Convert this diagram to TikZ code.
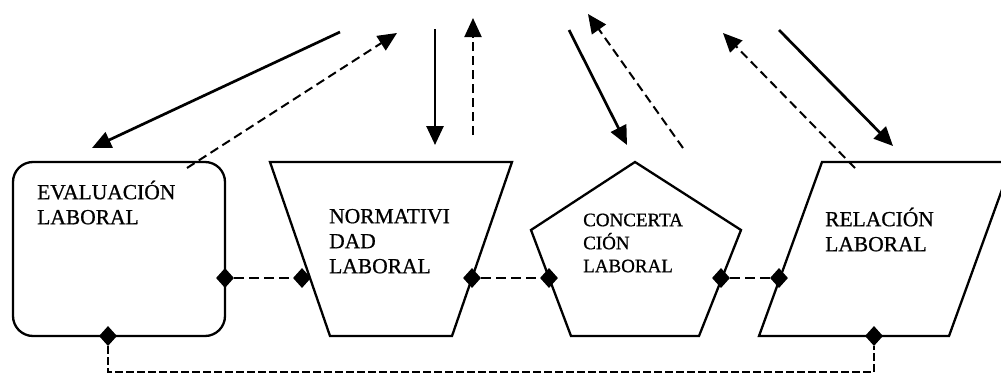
\documentclass[tikz,border=0pt]{standalone}
\usepackage{fontspec}
\setmainfont{Liberation Serif}[FakeBold=0.8]
\usetikzlibrary{arrows.meta,shapes.geometric}
% fixed-height strut so every label's first baseline sits the same distance below its top
\newcommand\firstrow{\rule{0pt}{20pt}}
\begin{document}
\begin{tikzpicture}[x=1pt,y=-1pt,
  boxline/.style={line width=2.3pt, line join=miter},
  flow/.style={line width=2.7pt, -{Triangle[length=19pt,width=17pt]}},
  back/.style={line width=2pt, dash pattern=on 9pt off 5pt, -{Triangle[length=19pt,width=17pt]}},
  link/.style={line width=2pt, dash pattern=on 10pt off 5pt},
  bus/.style={line width=2pt, dash pattern=on 8pt off 3pt},
  joint/.style={diamond, fill=black, inner sep=0pt, minimum width=18pt, minimum height=20pt},
  label/.style={anchor=north west, inner sep=0pt, align=left, font=\fontsize{21.5}{25}\selectfont},
  smalllabel/.style={label, font=\fontsize{19}{23}\selectfont},
]
\useasboundingbox (0,0) rectangle (1001,375);
\clip (0,0) rectangle (1001,375);

% --- the four blocks ---
\node[draw, boxline, rounded corners=20pt, minimum width=212pt, minimum height=174pt, inner sep=0pt]
  (eval) at (119,249) {};
\draw[boxline] (270,162) -- (512,162) -- (452,336) -- (330,336) -- cycle;
\draw[boxline] (635,162) -- (741,230) -- (699,336) -- (571,336) -- (531,230) -- cycle;
\draw[boxline] (822,162) -- (1012,162) -- (949,336) -- (759,336) -- cycle;

% --- block labels ---
\node[label] (evaltxt) at (37,179) {\firstrow EVALUACIÓN\\LABORAL};
\node[label] (normtxt) at (329,203) {\firstrow NORMATIVI\\DAD\\LABORAL};
\node[smalllabel] (conctxt) at (583,206) {\firstrow CONCERTA\\CIÓN\\LABORAL};
\node[label] (relatxt) at (825,206) {\firstrow RELACIÓN\\LABORAL};

% --- joints on the block outlines ---
\node[joint] (j1) at (225,278) {};
\node[joint] (j2) at (302,278) {};
\node[joint] (j3) at (472,278) {};
\node[joint] (j4) at (549,278) {};
\node[joint] (j5) at (721,278) {};
\node[joint] (j6) at (779,278) {};
\node[joint] (j7) at (108,336) {};
\node[joint] (j8) at (874,336) {};

% --- dashed links between neighbouring blocks ---
\draw[link] (j1) -- (j2);
\draw[link] (j3) -- (j4);
\draw[link] (j5) -- (j6);
\coordinate (busL) at (108,372);
\coordinate (busR) at (874,372);
\draw[bus] (j7) -- (busL) -- (busR) -- (j8);

% --- free ends of the upper arrows ---
\coordinate (s1) at (340,32);   \coordinate (t1) at (92,148);
\coordinate (s2) at (187,168);  \coordinate (t2) at (397,33);
\coordinate (s3) at (435,29);   \coordinate (t3) at (435,145);
\coordinate (s4) at (473,135);  \coordinate (t4) at (473,18);
\coordinate (s5) at (569,30);   \coordinate (t5) at (627,145);
\coordinate (s6) at (683,148);  \coordinate (t6) at (588,14);
\coordinate (s7) at (855,168);  \coordinate (t7) at (723,33);
\coordinate (s8) at (779,30);   \coordinate (t8) at (893,146);

\draw[flow] (s1) -- (t1);
\draw[back] (s2) -- (t2);
\draw[flow] (s3) -- (t3);
\draw[back] (s4) -- (t4);
\draw[flow] (s5) -- (t5);
\draw[back] (s6) -- (t6);
\draw[back] (s7) -- (t7);
\draw[flow] (s8) -- (t8);
\end{tikzpicture}
\end{document}
